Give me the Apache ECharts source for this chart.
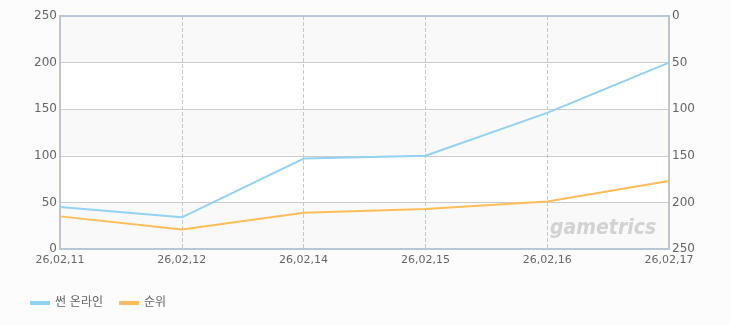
<!DOCTYPE html>
<html><head><meta charset="utf-8">
<script src="https://cdn.jsdelivr.net/npm/echarts@6/dist/echarts.min.js"></script>
<style>html,body{margin:0;padding:0;background:#fcfcfc;}#c{width:730px;height:325px;}</style>
</head><body><div id="c"></div>
<script>
const categories = ['26,02,11','26,02,12','26,02,14','26,02,15','26,02,16','26,02,17'];
const onlineValues = [45, 34, 97, 100, 146, 200];
const rankValues = [215, 229, 211, 207, 199, 177];
const seriesNames = ['썬 온라인', '순위'];

const chart = echarts.init(document.getElementById('c'));
const font = '"DejaVu Sans", "Noto Sans CJK KR", sans-serif';
const frame = {show: true, lineStyle: {color: '#b7c7d8', width: 2}};
chart.setOption({
  backgroundColor: '#fcfcfc',
  animation: false,
  grid: {left: 60, right: 61, top: 16, bottom: 76},
  legend: {
    left: 25, bottom: 11, itemWidth: 20, itemHeight: 4, itemGap: 16, icon: 'rect',
    textStyle: {color: '#666', fontSize: 12, fontFamily: font},
    data: seriesNames
  },
  xAxis: [{
    type: 'category', data: categories, boundaryGap: false,
    axisLine: frame, axisTick: {show: false},
    axisLabel: {color: '#666', fontSize: 11, fontFamily: font, margin: 6},
    splitLine: {show: true, lineStyle: {color: '#c8c8c8', type: 'dashed', width: 1}}
  }, {
    type: 'category', data: categories, boundaryGap: false, position: 'top',
    axisLine: frame, axisTick: {show: false}, axisLabel: {show: false}, splitLine: {show: false}
  }],
  yAxis: [{
    type: 'value', min: 0, max: 250, interval: 50,
    axisLine: frame, axisTick: {show: false},
    axisLabel: {color: '#666', fontSize: 12, fontFamily: font, margin: 3},
    splitLine: {show: true, lineStyle: {color: '#cccccc', width: 1}},
    splitArea: {show: true, areaStyle: {color: ['#f9f9f9', '#ffffff']}}
  }, {
    type: 'value', min: 0, max: 250, interval: 50, inverse: true, position: 'right',
    axisLine: frame, axisTick: {show: false},
    axisLabel: {color: '#666', fontSize: 12, fontFamily: font, margin: 3},
    splitLine: {show: false}
  }],
  graphic: [{
    type: 'text', x: 550, y: 217, z: 1, scaleX: 0.86,
    style: {text: 'gametrics', fill: '#d2d2d2', fontSize: 22, fontWeight: 'bold', fontStyle: 'italic', fontFamily: '"DejaVu Sans", sans-serif'}
  }],
  series: [{
    name: seriesNames[0], type: 'line', data: onlineValues, yAxisIndex: 0, z: 3,
    symbol: 'none', lineStyle: {color: '#92d2f2', width: 2}, itemStyle: {color: '#92d2f2'}
  }, {
    name: seriesNames[1], type: 'line', data: rankValues, yAxisIndex: 1, z: 3,
    symbol: 'none', lineStyle: {color: '#ffbd59', width: 2}, itemStyle: {color: '#ffbd59'}
  }]
});
</script></body></html>
